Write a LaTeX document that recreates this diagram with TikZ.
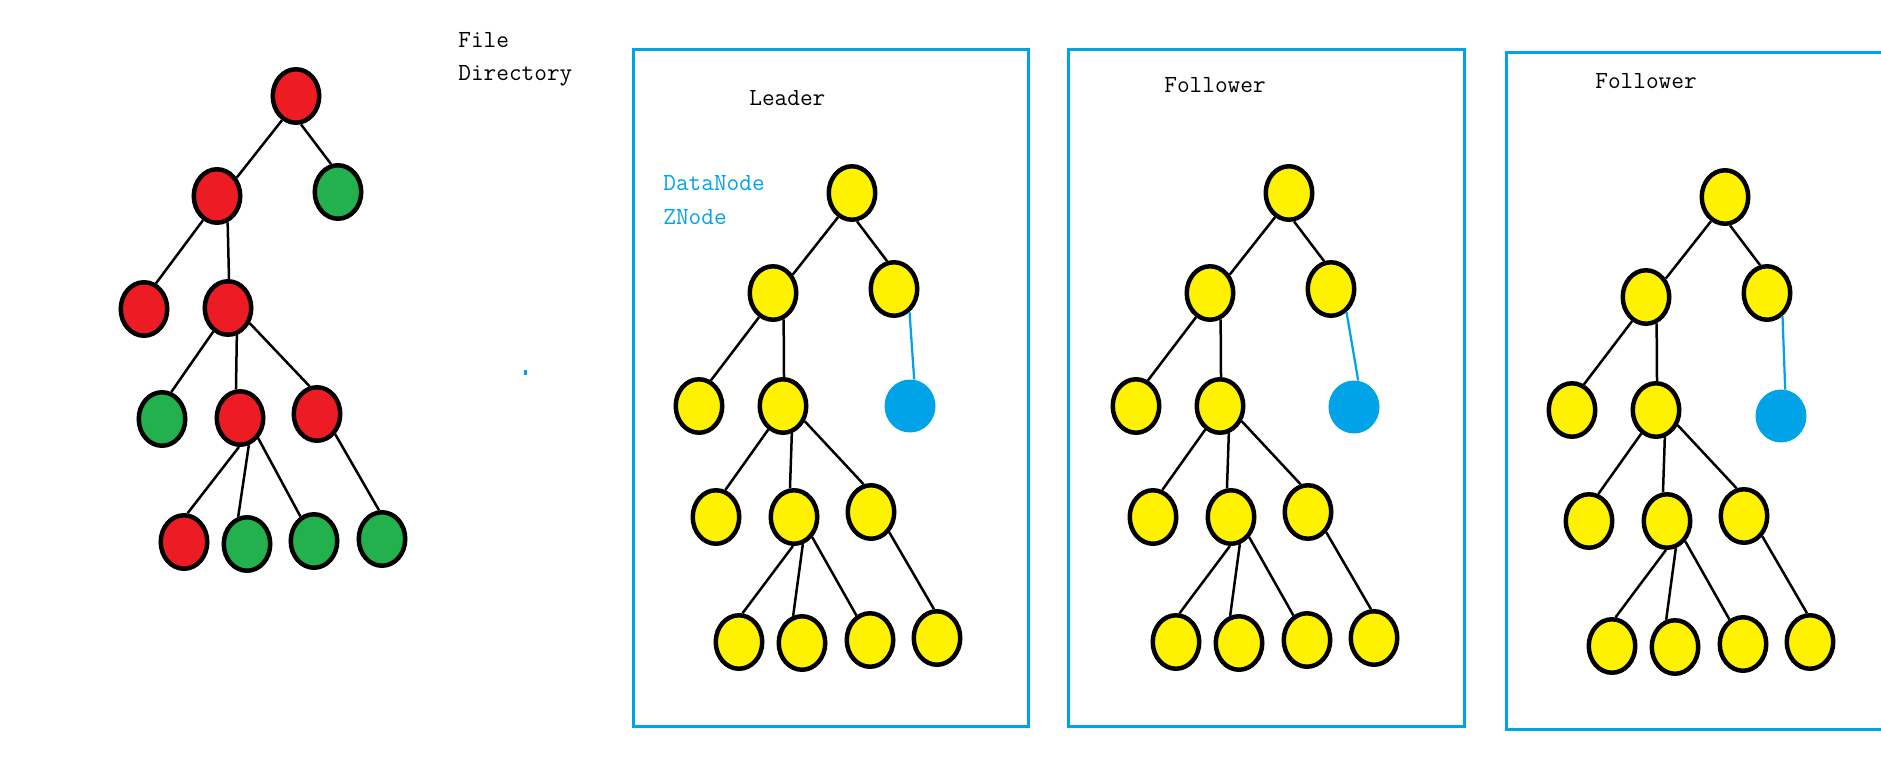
\documentclass[tikz,border=0pt]{standalone}
\usetikzlibrary{shapes.geometric}

\definecolor{dirred}{HTML}{ED1C24}
\definecolor{dirgreen}{HTML}{22B14C}
\definecolor{zkyellow}{HTML}{FFF200}
\definecolor{zkblue}{HTML}{00A2E8}

\tikzset{
	tnode/.style = {ellipse, draw = black, line width = 0.09cm, minimum width = 0.93cm, minimum height = 1.07cm, inner sep = 0pt},
	rnode/.style = {tnode, fill = dirred},
	gnode/.style = {tnode, fill = dirgreen},
	ynode/.style = {tnode, fill = zkyellow},
	dnode/.style = {ellipse, fill = zkblue, minimum width = 1.02cm, minimum height = 1.06cm, inner sep = 0pt},
	link/.style = {line width = 0.05cm},
	dlink/.style = {line width = 0.045cm, draw = zkblue},
	box/.style = {draw = zkblue, line width = 0.06cm},
	lbl/.style = {anchor = base west, inner sep = 0pt, font = \ttfamily\fontsize{14pt}{16pt}\selectfont}
}

\begin{document}
\begin{tikzpicture}[x = 0.02cm, y = -0.02cm]
	 \useasboundingbox (0, 0) rectangle (1881, 784);
	 
	 \node[rnode] (r0) at (296, 96) {};
	 \node[rnode] (r1) at (217, 196) {};
	 \node[gnode] (r2) at (338, 192) {};
	 \node[rnode] (r3) at (144, 309) {};
	 \node[rnode] (r4) at (228, 308) {};
	 \node[gnode] (r5) at (162, 419) {};
	 \node[rnode] (r6) at (240, 418) {};
	 \node[rnode] (r7) at (317, 414) {};
	 \node[rnode] (r8) at (184, 542) {};
	 \node[gnode] (r9) at (247, 544) {};
	 \node[gnode] (r10) at (314, 541) {};
	 \node[gnode] (r11) at (382, 539) {};
	 \foreach \a/\sa/\b/\sb in {0/-120/1/43, 0/-80/2/104, 1/-120/3/65, 1/-68/4/88, 4/-122/5/71, 4/-72/6/98, 4/-35/7/105, 6/-92/8/83, 6/-72/9/108, 6/-48/10/119, 7/-48/11/96}
	 \draw[link] (r\a.\sa) -- (r\b.\sb);
	 
	 \node[lbl] (file) at (458, 48) {File};
	 \node[lbl] (dir) at (458, 81) {Directory};
	 \fill[zkblue] (524, 370) rectangle (527, 375);
	 
	 \draw[box] (633, 50) rectangle (1028, 726);
	 \draw[box] (1068, 50) rectangle (1464, 726);
	 \draw[box] (1881, 53) -- (1506, 53) -- (1506, 729) -- (1881, 729);
	 
	 \node[lbl] (leader) at (749, 106) {Leader};
	 \node[lbl] (follow1) at (1164, 93) {Follower};
	 \node[lbl] (follow2) at (1595, 89) {Follower};
	 \node[lbl, text = zkblue] (dnlbl) at (663, 191) {DataNode};
	 \node[lbl, text = zkblue] (znlbl) at (663, 224) {ZNode};
	 
	 \foreach \t/\dx/\dy/\bx/\by in {a/0/0/0/0, b/437/0/7/1, c/873/4/-2/6}
	 {
	 \begin{scope}[shift = {(\dx, \dy)}]
	 \node[ynode] (\t0) at (852, 193) {};
	 \node[ynode] (\t1) at (773, 293) {};
	 \node[ynode] (\t2) at (894, 289) {};
	 \node[ynode] (\t3) at (699, 406) {};
	 \node[ynode] (\t4) at (783, 406) {};
	 \node[ynode] (\t5) at (716, 517) {};
	 \node[ynode] (\t6) at (794, 517) {};
	 \node[ynode] (\t7) at (871, 512) {};
	 \node[ynode] (\t8) at (739, 642) {};
	 \node[ynode] (\t9) at (802, 643) {};
	 \node[ynode] (\t10) at (870, 640) {};
	 \node[ynode] (\t11) at (937, 638) {};
	 \node[dnode] (\t12) at (910 + \bx, 406 + \by) {};
	 \foreach \a/\sa/\b/\sb in {0/-120/1/43, 0/-80/2/104, 1/-120/3/65, 1/-68/4/88, 4/-122/5/71, 4/-72/6/98, 4/-35/7/105, 6/-92/8/83, 6/-72/9/108, 6/-48/10/119, 7/-48/11/96}
	 \draw[link] (\t\a.\sa) -- (\t\b.\sb);
	 \draw[dlink] (\t2.-56) -- (\t12.81);
	 \end{scope}
	 }
\end{tikzpicture}
\end{document}
